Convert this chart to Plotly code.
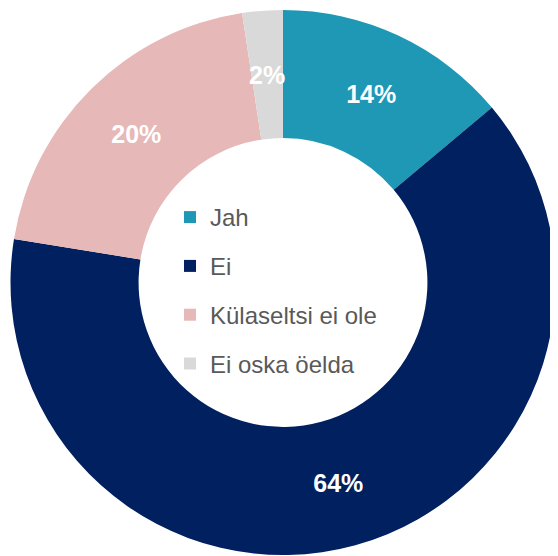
import math
import plotly.graph_objects as go

labels = ["Jah", "Ei", "Külaseltsi ei ole", "Ei oska öelda"]
values = [13.9, 63.65, 20.05, 2.4]
text_labels = ["14%", "64%", "20%", "2%"]
colors = ["#1E98B5", "#00205F", "#E6B8B7", "#D9D9D9"]

W, H = 558, 556
OFF = 8  # browser body margin
HOLE = 0.53
FONT = "Liberation Sans, Arial, sans-serif"

# pie domain in figure pixels
px0, px1 = 9 - OFF, 557 - OFF
py0, py1 = 10 - OFF, 555 - OFF

fig = go.Figure()
fig.add_trace(go.Pie(
    labels=labels,
    values=values,
    text=text_labels,
    textinfo="text",
    texttemplate="<b>%{text}</b>",
    textposition=["inside", "inside", "inside", "none"],
    insidetextorientation="horizontal",
    textfont=dict(family=FONT, size=25, color="white"),
    marker=dict(colors=colors, line=dict(width=0)),
    hole=HOLE,
    sort=False,
    direction="clockwise",
    rotation=0,
    showlegend=False,
    domain=dict(x=[px0 / W, px1 / W], y=[1 - py1 / H, 1 - py0 / H]),
))

# label for the narrow last slice, placed at mid-ring of its mid-angle
total = sum(values)
cum_before = sum(values[:-1])
mid_frac = (cum_before + values[-1] / 2) / total
ang = 2 * math.pi * mid_frac
R = min(px1 - px0, py1 - py0) / 2
r_mid = R * (1 + HOLE) / 2
cx, cy = (px0 + px1) / 2, (py0 + py1) / 2
lx = cx + r_mid * math.sin(ang)
ly = cy - r_mid * math.cos(ang)
fig.add_annotation(
    x=lx / W, y=1 - ly / H, xref="paper", yref="paper",
    text=f"<b>{text_labels[-1]}</b>", showarrow=False,
    xanchor="center", yanchor="middle",
    font=dict(family=FONT, size=25, color="white"),
)

for i, (lab, col) in enumerate(zip(labels, colors)):
    fig.add_trace(go.Scatter(
        x=[None], y=[None], mode="markers", name=lab,
        legendgroup=f"g{i}",
        marker=dict(symbol="square", size=12, color=col),
        showlegend=True,
    ))

fig.update_layout(
    width=W, height=H,
    margin=dict(l=0, r=0, t=0, b=0),
    paper_bgcolor="white", plot_bgcolor="white",
    xaxis=dict(visible=False), yaxis=dict(visible=False),
    legend=dict(
        x=162 / W, xanchor="left",
        y=1 - 187 / H, yanchor="top",
        font=dict(family=FONT, size=24, color="#595959"),
        tracegroupgap=14.6,
        bgcolor="rgba(0,0,0,0)",
        traceorder="grouped",
    ),
)

fig.write_html("out.html")
